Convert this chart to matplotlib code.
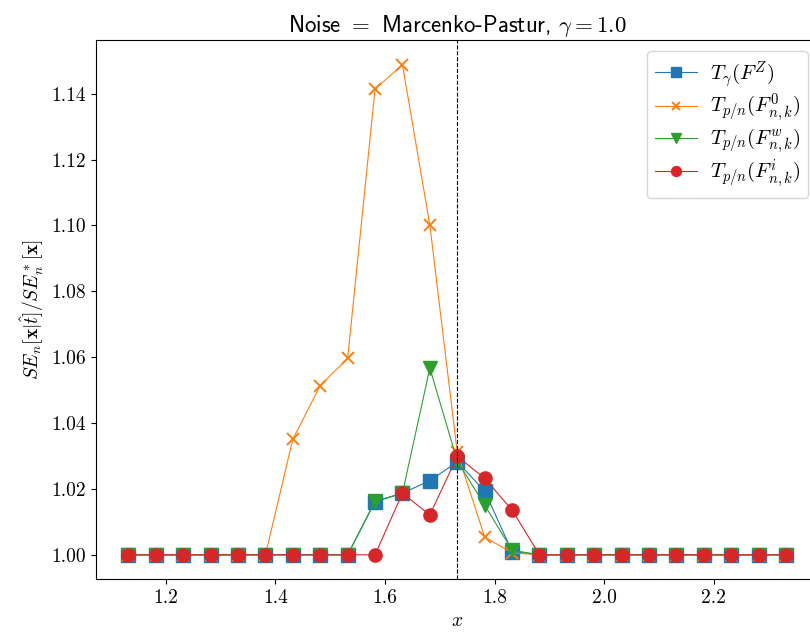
import matplotlib
matplotlib.use("Agg")
import matplotlib.pyplot as plt
import numpy as np

plt.rcParams['mathtext.fontset'] = 'cm'
plt.rcParams['font.family'] = 'serif'
plt.rcParams['font.serif'] = ['cmr10']
plt.rcParams['axes.formatter.use_mathtext'] = True
plt.rcParams['axes.unicode_minus'] = False

# x grid: sqrt(3) +/- 12 steps of 0.05
x = [1.132, 1.182, 1.232, 1.282, 1.332, 1.382, 1.432, 1.482, 1.532, 1.582,
     1.632, 1.682, 1.732, 1.782, 1.832, 1.882, 1.932, 1.982, 2.032, 2.082,
     2.132, 2.182, 2.232, 2.282, 2.332]
threshold = 1.732

t_gamma = [1.0, 1.0, 1.0, 1.0, 1.0, 1.0, 1.0, 1.0, 1.0, 1.0161,
           1.0187, 1.0225, 1.0282, 1.0194, 1.0010, 1.0, 1.0, 1.0, 1.0, 1.0,
           1.0, 1.0, 1.0, 1.0, 1.0]
t_zero = [1.0, 1.0, 1.0, 1.0, 1.0, 1.0, 1.0351, 1.0514, 1.0596, 1.1414,
          1.1488, 1.1001, 1.0311, 1.0054, 1.0006, 1.0, 1.0, 1.0, 1.0, 1.0,
          1.0, 1.0, 1.0, 1.0, 1.0]
t_w = [1.0, 1.0, 1.0, 1.0, 1.0, 1.0, 1.0, 1.0, 1.0, 1.0163,
       1.0187, 1.0567, 1.0285, 1.0151, 1.0014, 1.0, 1.0, 1.0, 1.0, 1.0,
       1.0, 1.0, 1.0, 1.0, 1.0]
t_i = [1.0, 1.0, 1.0, 1.0, 1.0, 1.0, 1.0, 1.0, 1.0, 1.0,
       1.0187, 1.0121, 1.0299, 1.0232, 1.0136, 1.0, 1.0, 1.0, 1.0, 1.0,
       1.0, 1.0, 1.0, 1.0, 1.0]

labels = [r'$T_\gamma(F^Z)$', r'$T_{p/n}(F^0_{n,k})$',
          r'$T_{p/n}(F^w_{n,k})$', r'$T_{p/n}(F^i_{n,k})$']

fig, ax = plt.subplots(figsize=(8.1, 6.38), dpi=100)
# the right spine sits just past the image edge in the reference
fig.subplots_adjust(left=0.118, right=1.011, top=0.937, bottom=0.092)

ax.plot(x, t_gamma, marker='s', ms=9.5, lw=0.8, color='tab:blue', label=labels[0])
ax.plot(x, t_zero, marker='x', ms=8.5, mew=1.4, lw=0.8, color='tab:orange', label=labels[1])
ax.plot(x, t_w, marker='v', ms=10, lw=0.8, color='tab:green', label=labels[2])
ax.plot(x, t_i, marker='o', ms=9.5, lw=0.8, color='tab:red', label=labels[3])
ax.axvline(threshold, color='k', ls='--', lw=0.8)

ax.set_xticks([1.2, 1.4, 1.6, 1.8, 2.0, 2.2])
ax.set_xticklabels(['1.2', '1.4', '1.6', '1.8', '2.0', '2.2'])
ax.set_yticks([1.00, 1.02, 1.04, 1.06, 1.08, 1.10, 1.12, 1.14])
ax.set_yticklabels(['1.00', '1.02', '1.04', '1.06', '1.08', '1.10', '1.12', '1.14'])
ax.tick_params(labelsize=14)

ax.set_xlabel(r'$x$', fontsize=14)
ax.set_ylabel(r'$SE_n[\mathbf{x}|\hat{t}]/SE^*_n[\mathbf{x}]$', fontsize=14)
ax.set_title(r'Noise $=$ Marcenko-Pastur, $\gamma = 1.0$', fontsize=16.5, family='cmss10')
ax.legend(loc='upper right', fontsize=15, markerscale=0.75, labelspacing=0.1,
          handletextpad=0.6, borderaxespad=0.5)

fig.savefig('out.png')
